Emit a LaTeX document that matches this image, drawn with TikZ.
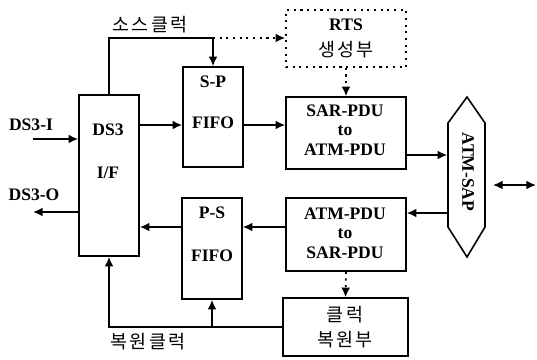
\documentclass[tikz,border=0pt]{standalone}
\usepackage{fontspec}
\setmainfont{Liberation Serif}
\newfontfamily\kor[LetterSpace=12]{Noto Sans CJK KR}
\usepackage{tikz}
\usetikzlibrary{arrows.meta,positioning}

\begin{document}
\begin{tikzpicture}[x=0.02cm, y=-0.02cm, line width=0.9pt, >={Latex[length=5.5pt,width=5pt]},
    blk/.style={draw, inner sep=0pt},
    dotline/.style={dash pattern=on 1.2pt off 2.6pt},
    lbl/.style={font=\bfseries\fontsize{10}{12}\selectfont, inner sep=0pt},
    klbl/.style={font=\kor\fontsize{10.5}{12}\selectfont, inner sep=0pt}]
    \useasboundingbox (0,0) rectangle (537,359);
    % blocks
    \node[blk, minimum width=1.2cm, minimum height=3.22cm] (ds3) at (109,175.5) {};
    \node[blk, minimum width=1.2cm, minimum height=2cm] (sp) at (213,117) {};
    \node[blk, minimum width=1.2cm, minimum height=2.02cm] (ps) at (212,248.5) {};
    \node[blk, dotline, minimum width=2.4cm, minimum height=1.14cm] (rts) at (346,38.5) {};
    \node[blk, minimum width=2.4cm, minimum height=1.44cm] (sar) at (346,133) {};
    \node[blk, minimum width=2.4cm, minimum height=1.46cm] (atm) at (346,234.5) {};
    \node[blk, minimum width=2.5cm, minimum height=1.16cm] (clk) at (345.5,327) {};
    \node[minimum width=0.74cm, minimum height=3.2cm, inner sep=0pt] (sap) at (466.5,177) {};
    \draw (467,97) -- (485,123) -- (485,227) -- (467,257) -- (448,227) -- (448,123) -- cycle;
    % texts
    \node[lbl] (t-ds3) at (108,130) {DS3};
    \node[lbl] (t-if) at (108,173) {I/F};
    \node[lbl] (t-sp) at (213,82) {S-P};
    \node[lbl] (t-spf) at (213,123) {FIFO};
    \node[lbl] (t-ps) at (212,213) {P-S};
    \node[lbl] (t-psf) at (212,256) {FIFO};
    \node[lbl, align=center] (t-sar) at (345,130) {SAR-PDU\\[-1pt] to\\[-1pt] ATM-PDU};
    \node[lbl, align=center] (t-atm) at (345,233) {ATM-PDU\\[-1pt] to\\[-1pt] SAR-PDU};
    \node[lbl] (t-rts) at (346,25) {RTS};
    \node[klbl] (t-gen) at (346,50) {생성부};
    \node[klbl] (t-clk) at (345,315) {클럭};
    \node[klbl] (t-rec) at (345,340) {복원부};
    \node[lbl, rotate=-90] (t-sap) at (468,172) {ATM-SAP};
    \node[lbl] (t-in) at (31,125) {DS3-I};
    \node[lbl] (t-out) at (34,195) {DS3-O};
    \node[klbl] (t-src) at (150,25) {소스클럭};
    \node[klbl] (t-rcv) at (148,342) {복원클럭};
    % levels
    \coordinate (dsin) at (33,139);
    \coordinate (dsout) at (33,212);
    \coordinate (y125) at (0,125);
    \coordinate (y155) at (0,155);
    \coordinate (y213) at (0,213);
    \coordinate (y227) at (0,227);
    \coordinate (srctop) at (109,38);
    \coordinate (rcv) at (109,327);
    \coordinate (io1) at (493,185);
    \coordinate (io2) at (536,185);
    % connectors
    \draw[->] (dsin) -- (dsin -| ds3.west);
    \draw[->] (ds3.west |- dsout) -- (dsout);
    \draw[->] (ds3.east |- y125) -- (sp.west |- y125);
    \draw[->] (sp.east |- y125) -- (sar.west |- y125);
    \draw[->] (sar.east |- y155) -- (sap.west |- y155);
    \draw[->] (sap.west |- y213) -- (atm.east |- y213);
    \draw[->] (atm.west |- y227) -- (ps.east |- y227);
    \draw[->] (ps.west |- y227) -- (ds3.east |- y227);
    \draw[->, dotline] (rts.south) -- (sar.north);
    \draw[->, dotline] (atm.south) -- (clk.north);
    \draw[->] (ds3.north) -- (srctop) -- (srctop -| sp.north) -- (sp.north);
    \draw[->, dotline] (srctop -| sp.north) -- (rts.west |- srctop);
    \draw[->] (clk.west) -- (rcv) -- (ds3.south);
    \draw[->] (ps.south |- rcv) -- (ps.south);
    \draw[<->] (io1) -- (io2);
\end{tikzpicture}
\end{document}
